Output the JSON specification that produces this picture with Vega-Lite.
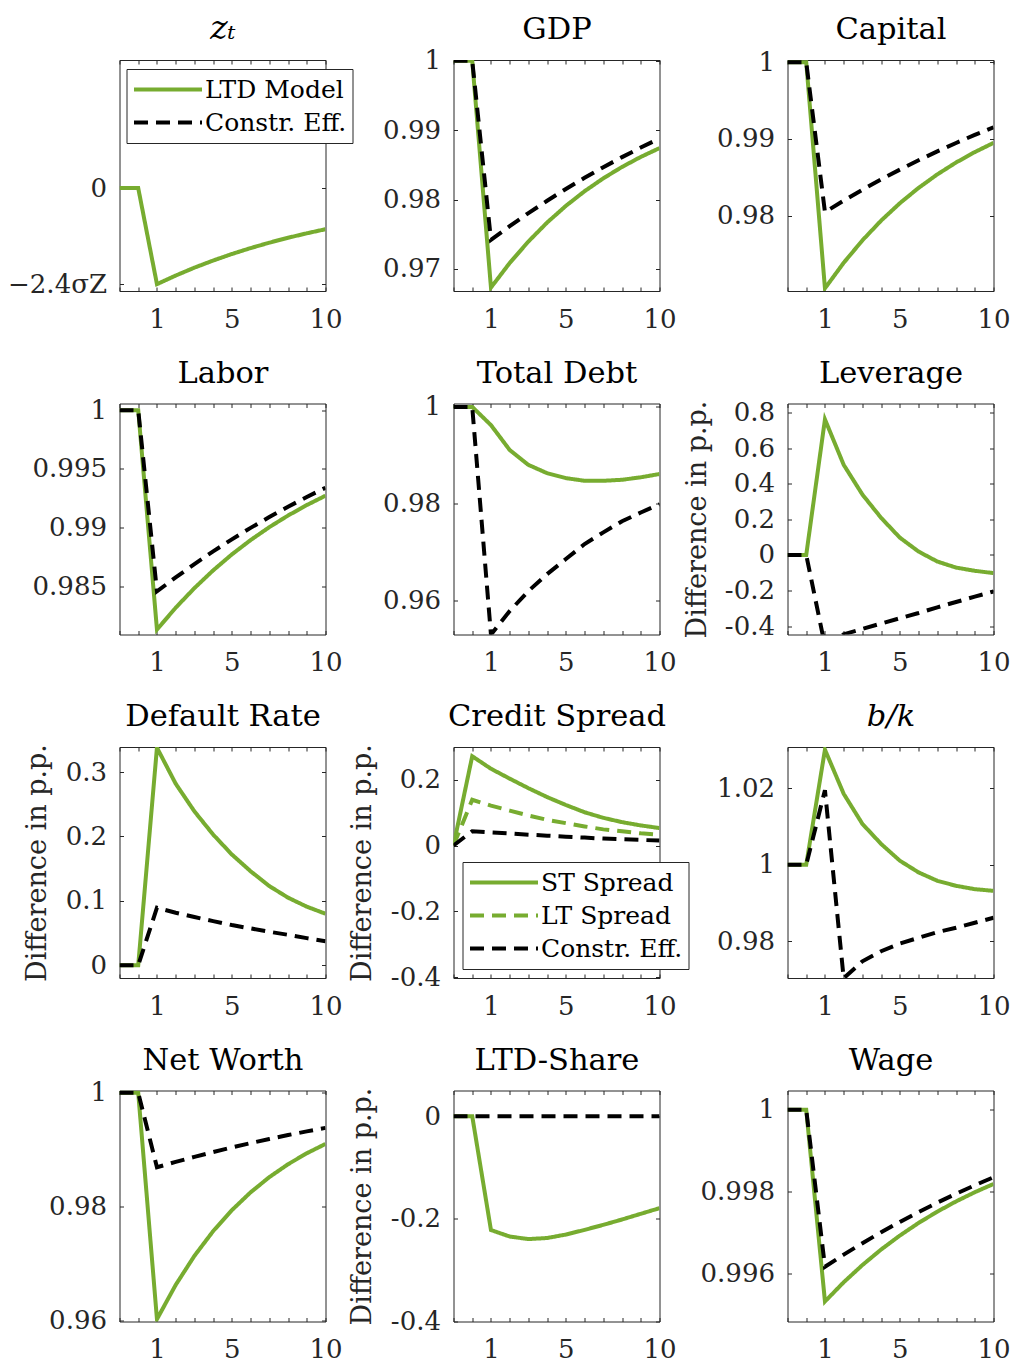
{
"$schema": "https://vega.github.io/schema/vega-lite/v6.json",
"background": "white",
"padding": {"left": 6.5, "top": 12, "right": 5, "bottom": 0},
"columns": 3,
"spacing": {"row": 112.5, "column": 128},
"bounds": "flush",
"resolve": {"scale": {"color": "independent", "strokeDash": "independent"}, "legend": {"color": "independent", "strokeDash": "independent"}},
"datasets": {
"z": [{"t":-1,"s":"LTD Model","v":0},{"t":0,"s":"LTD Model","v":0},{"t":1,"s":"LTD Model","v":-2.4},{"t":2,"s":"LTD Model","v":-2.184},{"t":3,"s":"LTD Model","v":-1.987},{"t":4,"s":"LTD Model","v":-1.809},{"t":5,"s":"LTD Model","v":-1.646},{"t":6,"s":"LTD Model","v":-1.498},{"t":7,"s":"LTD Model","v":-1.363},{"t":8,"s":"LTD Model","v":-1.24},{"t":9,"s":"LTD Model","v":-1.129},{"t":10,"s":"LTD Model","v":-1.027}],
"gdp": [{"t":-1,"s":"LTD Model","v":1},{"t":0,"s":"LTD Model","v":1},{"t":1,"s":"LTD Model","v":0.96733},{"t":2,"s":"LTD Model","v":0.97086},{"t":3,"s":"LTD Model","v":0.97396},{"t":4,"s":"LTD Model","v":0.97669},{"t":5,"s":"LTD Model","v":0.97909},{"t":6,"s":"LTD Model","v":0.9812},{"t":7,"s":"LTD Model","v":0.98306},{"t":8,"s":"LTD Model","v":0.9847},{"t":9,"s":"LTD Model","v":0.98614},{"t":10,"s":"LTD Model","v":0.98741},
{"t":-1,"s":"Constr. Eff.","v":1},{"t":0,"s":"Constr. Eff.","v":1},{"t":1,"s":"Constr. Eff.","v":0.9742},{"t":2,"s":"Constr. Eff.","v":0.97617},{"t":3,"s":"Constr. Eff.","v":0.97805},{"t":4,"s":"Constr. Eff.","v":0.97983},{"t":5,"s":"Constr. Eff.","v":0.98152},{"t":6,"s":"Constr. Eff.","v":0.98313},{"t":7,"s":"Constr. Eff.","v":0.98466},{"t":8,"s":"Constr. Eff.","v":0.98611},{"t":9,"s":"Constr. Eff.","v":0.98749},{"t":10,"s":"Constr. Eff.","v":0.9888}],
"cap": [{"t":-1,"s":"LTD Model","v":1},{"t":0,"s":"LTD Model","v":1},{"t":1,"s":"LTD Model","v":0.9705},{"t":2,"s":"LTD Model","v":0.97383},{"t":3,"s":"LTD Model","v":0.97676},{"t":4,"s":"LTD Model","v":0.97934},{"t":5,"s":"LTD Model","v":0.98161},{"t":6,"s":"LTD Model","v":0.98361},{"t":7,"s":"LTD Model","v":0.98537},{"t":8,"s":"LTD Model","v":0.98692},{"t":9,"s":"LTD Model","v":0.98828},{"t":10,"s":"LTD Model","v":0.98948},
{"t":-1,"s":"Constr. Eff.","v":1},{"t":0,"s":"Constr. Eff.","v":1},{"t":1,"s":"Constr. Eff.","v":0.98044},{"t":2,"s":"Constr. Eff.","v":0.98194},{"t":3,"s":"Constr. Eff.","v":0.98336},{"t":4,"s":"Constr. Eff.","v":0.98471},{"t":5,"s":"Constr. Eff.","v":0.98599},{"t":6,"s":"Constr. Eff.","v":0.98721},{"t":7,"s":"Constr. Eff.","v":0.98837},{"t":8,"s":"Constr. Eff.","v":0.98947},{"t":9,"s":"Constr. Eff.","v":0.99052},{"t":10,"s":"Constr. Eff.","v":0.99151}],
"lab": [{"t":-1,"s":"LTD Model","v":1},{"t":0,"s":"LTD Model","v":1},{"t":1,"s":"LTD Model","v":0.98132},{"t":2,"s":"LTD Model","v":0.98318},{"t":3,"s":"LTD Model","v":0.98485},{"t":4,"s":"LTD Model","v":0.98636},{"t":5,"s":"LTD Model","v":0.98772},{"t":6,"s":"LTD Model","v":0.98894},{"t":7,"s":"LTD Model","v":0.99004},{"t":8,"s":"LTD Model","v":0.99103},{"t":9,"s":"LTD Model","v":0.99192},{"t":10,"s":"LTD Model","v":0.99272},
{"t":-1,"s":"Constr. Eff.","v":1},{"t":0,"s":"Constr. Eff.","v":1},{"t":1,"s":"Constr. Eff.","v":0.98457},{"t":2,"s":"Constr. Eff.","v":0.98576},{"t":3,"s":"Constr. Eff.","v":0.9869},{"t":4,"s":"Constr. Eff.","v":0.98798},{"t":5,"s":"Constr. Eff.","v":0.989},{"t":6,"s":"Constr. Eff.","v":0.98998},{"t":7,"s":"Constr. Eff.","v":0.9909},{"t":8,"s":"Constr. Eff.","v":0.99178},{"t":9,"s":"Constr. Eff.","v":0.99261},{"t":10,"s":"Constr. Eff.","v":0.9934}],
"debt": [{"t":-1,"s":"LTD Model","v":1},{"t":0,"s":"LTD Model","v":1},{"t":1,"s":"LTD Model","v":0.99624},{"t":2,"s":"LTD Model","v":0.99111},{"t":3,"s":"LTD Model","v":0.98803},{"t":4,"s":"LTD Model","v":0.98632},{"t":5,"s":"LTD Model","v":0.9853},{"t":6,"s":"LTD Model","v":0.98475},{"t":7,"s":"LTD Model","v":0.98475},{"t":8,"s":"LTD Model","v":0.98496},{"t":9,"s":"LTD Model","v":0.98547},{"t":10,"s":"LTD Model","v":0.98615},
{"t":-1,"s":"Constr. Eff.","v":1},{"t":0,"s":"Constr. Eff.","v":1},{"t":1,"s":"Constr. Eff.","v":0.953},{"t":2,"s":"Constr. Eff.","v":0.95787},{"t":3,"s":"Constr. Eff.","v":0.962},{"t":4,"s":"Constr. Eff.","v":0.9655},{"t":5,"s":"Constr. Eff.","v":0.9686},{"t":6,"s":"Constr. Eff.","v":0.9717},{"t":7,"s":"Constr. Eff.","v":0.9741},{"t":8,"s":"Constr. Eff.","v":0.9764},{"t":9,"s":"Constr. Eff.","v":0.9782},{"t":10,"s":"Constr. Eff.","v":0.9799}],
"lev": [{"t":-1,"s":"LTD Model","v":0},{"t":0,"s":"LTD Model","v":0},{"t":1,"s":"LTD Model","v":0.761},{"t":2,"s":"LTD Model","v":0.506},{"t":3,"s":"LTD Model","v":0.339},{"t":4,"s":"LTD Model","v":0.208},{"t":5,"s":"LTD Model","v":0.097},{"t":6,"s":"LTD Model","v":0.019},{"t":7,"s":"LTD Model","v":-0.037},{"t":8,"s":"LTD Model","v":-0.071},{"t":9,"s":"LTD Model","v":-0.089},{"t":10,"s":"LTD Model","v":-0.102},
{"t":-1,"s":"Constr. Eff.","v":0},{"t":0,"s":"Constr. Eff.","v":0},{"t":1,"s":"Constr. Eff.","v":-0.51},{"t":2,"s":"Constr. Eff.","v":-0.445},{"t":3,"s":"Constr. Eff.","v":-0.415},{"t":4,"s":"Constr. Eff.","v":-0.385},{"t":5,"s":"Constr. Eff.","v":-0.355},{"t":6,"s":"Constr. Eff.","v":-0.326},{"t":7,"s":"Constr. Eff.","v":-0.294},{"t":8,"s":"Constr. Eff.","v":-0.264},{"t":9,"s":"Constr. Eff.","v":-0.234},{"t":10,"s":"Constr. Eff.","v":-0.205}],
"def": [{"t":-1,"s":"LTD Model","v":0},{"t":0,"s":"LTD Model","v":0},{"t":1,"s":"LTD Model","v":0.338},{"t":2,"s":"LTD Model","v":0.282},{"t":3,"s":"LTD Model","v":0.239},{"t":4,"s":"LTD Model","v":0.203},{"t":5,"s":"LTD Model","v":0.172},{"t":6,"s":"LTD Model","v":0.146},{"t":7,"s":"LTD Model","v":0.123},{"t":8,"s":"LTD Model","v":0.105},{"t":9,"s":"LTD Model","v":0.091},{"t":10,"s":"LTD Model","v":0.08},
{"t":-1,"s":"Constr. Eff.","v":0},{"t":0,"s":"Constr. Eff.","v":0},{"t":1,"s":"Constr. Eff.","v":0.0894},{"t":2,"s":"Constr. Eff.","v":0.0816},{"t":3,"s":"Constr. Eff.","v":0.0749},{"t":4,"s":"Constr. Eff.","v":0.0686},{"t":5,"s":"Constr. Eff.","v":0.0624},{"t":6,"s":"Constr. Eff.","v":0.0572},{"t":7,"s":"Constr. Eff.","v":0.052},{"t":8,"s":"Constr. Eff.","v":0.0473},{"t":9,"s":"Constr. Eff.","v":0.0421},{"t":10,"s":"Constr. Eff.","v":0.0374}],
"cs": [{"t":-1,"s":"ST Spread","v":0},{"t":0,"s":"ST Spread","v":0.271},{"t":1,"s":"ST Spread","v":0.233},{"t":2,"s":"ST Spread","v":0.203},{"t":3,"s":"ST Spread","v":0.174},{"t":4,"s":"ST Spread","v":0.147},{"t":5,"s":"ST Spread","v":0.123},{"t":6,"s":"ST Spread","v":0.101},{"t":7,"s":"ST Spread","v":0.084},{"t":8,"s":"ST Spread","v":0.071},{"t":9,"s":"ST Spread","v":0.061},{"t":10,"s":"ST Spread","v":0.053},
{"t":-1,"s":"LT Spread","v":0},{"t":0,"s":"LT Spread","v":0.139},{"t":1,"s":"LT Spread","v":0.121},{"t":2,"s":"LT Spread","v":0.106},{"t":3,"s":"LT Spread","v":0.091},{"t":4,"s":"LT Spread","v":0.078},{"t":5,"s":"LT Spread","v":0.068},{"t":6,"s":"LT Spread","v":0.058},{"t":7,"s":"LT Spread","v":0.049},{"t":8,"s":"LT Spread","v":0.043},{"t":9,"s":"LT Spread","v":0.037},{"t":10,"s":"LT Spread","v":0.033},
{"t":-1,"s":"Constr. Eff.","v":0},{"t":0,"s":"Constr. Eff.","v":0.0435},{"t":1,"s":"Constr. Eff.","v":0.04},{"t":2,"s":"Constr. Eff.","v":0.037},{"t":3,"s":"Constr. Eff.","v":0.033},{"t":4,"s":"Constr. Eff.","v":0.03},{"t":5,"s":"Constr. Eff.","v":0.027},{"t":6,"s":"Constr. Eff.","v":0.024},{"t":7,"s":"Constr. Eff.","v":0.021},{"t":8,"s":"Constr. Eff.","v":0.019},{"t":9,"s":"Constr. Eff.","v":0.017},{"t":10,"s":"Constr. Eff.","v":0.015}],
"bk": [{"t":-1,"s":"LTD Model","v":1},{"t":0,"s":"LTD Model","v":1},{"t":1,"s":"LTD Model","v":1.0301},{"t":2,"s":"LTD Model","v":1.01856},{"t":3,"s":"LTD Model","v":1.01068},{"t":4,"s":"LTD Model","v":1.00543},{"t":5,"s":"LTD Model","v":1.00105},{"t":6,"s":"LTD Model","v":0.99799},{"t":7,"s":"LTD Model","v":0.9958},{"t":8,"s":"LTD Model","v":0.99449},{"t":9,"s":"LTD Model","v":0.99361},{"t":10,"s":"LTD Model","v":0.99317},
{"t":-1,"s":"Constr. Eff.","v":1},{"t":0,"s":"Constr. Eff.","v":1},{"t":1,"s":"Constr. Eff.","v":1.0195},{"t":2,"s":"Constr. Eff.","v":0.9703},{"t":3,"s":"Constr. Eff.","v":0.97474},{"t":4,"s":"Constr. Eff.","v":0.97737},{"t":5,"s":"Constr. Eff.","v":0.97939},{"t":6,"s":"Constr. Eff.","v":0.98088},{"t":7,"s":"Constr. Eff.","v":0.98236},{"t":8,"s":"Constr. Eff.","v":0.9835},{"t":9,"s":"Constr. Eff.","v":0.98481},{"t":10,"s":"Constr. Eff.","v":0.98613}],
"nw": [{"t":-1,"s":"LTD Model","v":1},{"t":0,"s":"LTD Model","v":1},{"t":1,"s":"LTD Model","v":0.96018},{"t":2,"s":"LTD Model","v":0.9662},{"t":3,"s":"LTD Model","v":0.97131},{"t":4,"s":"LTD Model","v":0.97566},{"t":5,"s":"LTD Model","v":0.97935},{"t":6,"s":"LTD Model","v":0.98249},{"t":7,"s":"LTD Model","v":0.98516},{"t":8,"s":"LTD Model","v":0.98743},{"t":9,"s":"LTD Model","v":0.98936},{"t":10,"s":"LTD Model","v":0.991},
{"t":-1,"s":"Constr. Eff.","v":1},{"t":0,"s":"Constr. Eff.","v":1},{"t":1,"s":"Constr. Eff.","v":0.9869},{"t":2,"s":"Constr. Eff.","v":0.98784},{"t":3,"s":"Constr. Eff.","v":0.98873},{"t":4,"s":"Constr. Eff.","v":0.98957},{"t":5,"s":"Constr. Eff.","v":0.99038},{"t":6,"s":"Constr. Eff.","v":0.99114},{"t":7,"s":"Constr. Eff.","v":0.99187},{"t":8,"s":"Constr. Eff.","v":0.99256},{"t":9,"s":"Constr. Eff.","v":0.99321},{"t":10,"s":"Constr. Eff.","v":0.99383}],
"ltd": [{"t":-1,"s":"LTD Model","v":0},{"t":0,"s":"LTD Model","v":0},{"t":1,"s":"LTD Model","v":-0.2218},{"t":2,"s":"LTD Model","v":-0.2345},{"t":3,"s":"LTD Model","v":-0.2394},{"t":4,"s":"LTD Model","v":-0.2374},{"t":5,"s":"LTD Model","v":-0.2306},{"t":6,"s":"LTD Model","v":-0.2215},{"t":7,"s":"LTD Model","v":-0.2117},{"t":8,"s":"LTD Model","v":-0.2013},{"t":9,"s":"LTD Model","v":-0.1902},{"t":10,"s":"LTD Model","v":-0.1792},
{"t":-1,"s":"Constr. Eff.","v":0},{"t":0,"s":"Constr. Eff.","v":0},{"t":1,"s":"Constr. Eff.","v":0},{"t":2,"s":"Constr. Eff.","v":0},{"t":3,"s":"Constr. Eff.","v":0},{"t":4,"s":"Constr. Eff.","v":0},{"t":5,"s":"Constr. Eff.","v":0},{"t":6,"s":"Constr. Eff.","v":0},{"t":7,"s":"Constr. Eff.","v":0},{"t":8,"s":"Constr. Eff.","v":0},{"t":9,"s":"Constr. Eff.","v":0},{"t":10,"s":"Constr. Eff.","v":0}],
"wage": [{"t":-1,"s":"LTD Model","v":1},{"t":0,"s":"LTD Model","v":1},{"t":1,"s":"LTD Model","v":0.995305},{"t":2,"s":"LTD Model","v":0.995775},{"t":3,"s":"LTD Model","v":0.996197},{"t":4,"s":"LTD Model","v":0.996578},{"t":5,"s":"LTD Model","v":0.99692},{"t":6,"s":"LTD Model","v":0.997229},{"t":7,"s":"LTD Model","v":0.997506},{"t":8,"s":"LTD Model","v":0.997756},{"t":9,"s":"LTD Model","v":0.997981},{"t":10,"s":"LTD Model","v":0.998184},
{"t":-1,"s":"Constr. Eff.","v":1},{"t":0,"s":"Constr. Eff.","v":1},{"t":1,"s":"Constr. Eff.","v":0.996155},{"t":2,"s":"Constr. Eff.","v":0.996452},{"t":3,"s":"Constr. Eff.","v":0.996733},{"t":4,"s":"Constr. Eff.","v":0.997001},{"t":5,"s":"Constr. Eff.","v":0.997255},{"t":6,"s":"Constr. Eff.","v":0.997496},{"t":7,"s":"Constr. Eff.","v":0.997726},{"t":8,"s":"Constr. Eff.","v":0.997944},{"t":9,"s":"Constr. Eff.","v":0.998151},{"t":10,"s":"Constr. Eff.","v":0.998348}]
},
"concat": [
{"width": 206, "height": 231, "data": {"name": "z"},
 "layer": [
  {"mark": {"type": "line", "clip": true, "strokeWidth": 4},
   "encoding": {
    "x": {"field": "t", "type": "quantitative", "scale": {"domain": [-1, 10], "nice": false, "zero": false}, "axis": {"values": [-1,0,1,2,3,4,5,6,7,8,9,10], "labelExpr": "datum.value == 1 ? '1' : datum.value == 5 ? '5' : datum.value == 10 ? '10' : ''", "title": null}},
    "y": {"field": "v", "type": "quantitative", "scale": {"domain": [-2.57, 3.2], "nice": false, "zero": false}, "axis": {"values": [-2.4, 0], "labelExpr": "datum.value == 0 ? '0' : '−2.4σZ'", "title": null}},
    "color": {"field": "s", "type": "nominal", "scale": {"domain": ["LTD Model", "Constr. Eff."], "range": ["#77AC30", "#000000"]}, "legend": {"orient": "none", "legendX": 7, "legendY": 9, "title": null}},
    "strokeDash": {"field": "s", "type": "nominal", "scale": {"domain": ["LTD Model", "Constr. Eff."], "range": [[1, 0], [14, 8]]}, "legend": {"orient": "none", "legendX": 7, "legendY": 9, "title": null}}
   }},
  {"mark": {"type": "point", "opacity": 0, "clip": true},
   "encoding": {
    "x": {"field": "t", "type": "quantitative", "axis": {"orient": "top", "values": [-1,0,1,2,3,4,5,6,7,8,9,10], "labels": false, "title": "zₜ", "titleFontStyle": "italic", "titleFontSize": 33}},
    "y": {"field": "v", "type": "quantitative", "axis": {"orient": "right", "values": [-2.4, 0], "labels": false, "title": null}}
   }}
 ],
 "resolve": {"axis": {"x": "independent", "y": "independent"}}
},
{"width": 206, "height": 231, "data": {"name": "gdp"},
 "layer": [
  {"mark": {"type": "line", "clip": true, "strokeWidth": 4},
   "encoding": {
    "x": {"field": "t", "type": "quantitative", "scale": {"domain": [-1, 10], "nice": false, "zero": false}, "axis": {"values": [-1,0,1,2,3,4,5,6,7,8,9,10], "labelExpr": "datum.value == 1 ? '1' : datum.value == 5 ? '5' : datum.value == 10 ? '10' : ''", "title": null}},
    "y": {"field": "v", "type": "quantitative", "scale": {"domain": [0.96683, 1.0001], "nice": false, "zero": false}, "axis": {"values": [0.97, 0.98, 0.99, 1], "format": ".2~f", "title": null}},
    "color": {"field": "s", "type": "nominal", "scale": {"domain": ["LTD Model", "Constr. Eff."], "range": ["#77AC30", "#000000"]}, "legend": null},
    "strokeDash": {"field": "s", "type": "nominal", "scale": {"domain": ["LTD Model", "Constr. Eff."], "range": [[1, 0], [14, 8]]}, "legend": null}
   }},
  {"mark": {"type": "point", "opacity": 0, "clip": true},
   "encoding": {
    "x": {"field": "t", "type": "quantitative", "axis": {"orient": "top", "values": [-1,0,1,2,3,4,5,6,7,8,9,10], "labels": false, "title": "GDP"}},
    "y": {"field": "v", "type": "quantitative", "axis": {"orient": "right", "values": [0.97, 0.98, 0.99, 1], "labels": false, "title": null}}
   }}
 ],
 "resolve": {"axis": {"x": "independent", "y": "independent"}}
},
{"width": 206, "height": 231, "data": {"name": "cap"},
 "layer": [
  {"mark": {"type": "line", "clip": true, "strokeWidth": 4},
   "encoding": {
    "x": {"field": "t", "type": "quantitative", "scale": {"domain": [-1, 10], "nice": false, "zero": false}, "axis": {"values": [-1,0,1,2,3,4,5,6,7,8,9,10], "labelExpr": "datum.value == 1 ? '1' : datum.value == 5 ? '5' : datum.value == 10 ? '10' : ''", "title": null}},
    "y": {"field": "v", "type": "quantitative", "scale": {"domain": [0.97015, 1.0003], "nice": false, "zero": false}, "axis": {"values": [0.98, 0.99, 1], "format": ".2~f", "title": null}},
    "color": {"field": "s", "type": "nominal", "scale": {"domain": ["LTD Model", "Constr. Eff."], "range": ["#77AC30", "#000000"]}, "legend": null},
    "strokeDash": {"field": "s", "type": "nominal", "scale": {"domain": ["LTD Model", "Constr. Eff."], "range": [[1, 0], [14, 8]]}, "legend": null}
   }},
  {"mark": {"type": "point", "opacity": 0, "clip": true},
   "encoding": {
    "x": {"field": "t", "type": "quantitative", "axis": {"orient": "top", "values": [-1,0,1,2,3,4,5,6,7,8,9,10], "labels": false, "title": "Capital"}},
    "y": {"field": "v", "type": "quantitative", "axis": {"orient": "right", "values": [0.98, 0.99, 1], "labels": false, "title": null}}
   }}
 ],
 "resolve": {"axis": {"x": "independent", "y": "independent"}}
},
{"width": 206, "height": 231, "data": {"name": "lab"},
 "layer": [
  {"mark": {"type": "line", "clip": true, "strokeWidth": 4},
   "encoding": {
    "x": {"field": "t", "type": "quantitative", "scale": {"domain": [-1, 10], "nice": false, "zero": false}, "axis": {"values": [-1,0,1,2,3,4,5,6,7,8,9,10], "labelExpr": "datum.value == 1 ? '1' : datum.value == 5 ? '5' : datum.value == 10 ? '10' : ''", "title": null}},
    "y": {"field": "v", "type": "quantitative", "scale": {"domain": [0.9809, 1.00057], "nice": false, "zero": false}, "axis": {"values": [0.985, 0.99, 0.995, 1], "format": ".3~f", "title": null}},
    "color": {"field": "s", "type": "nominal", "scale": {"domain": ["LTD Model", "Constr. Eff."], "range": ["#77AC30", "#000000"]}, "legend": null},
    "strokeDash": {"field": "s", "type": "nominal", "scale": {"domain": ["LTD Model", "Constr. Eff."], "range": [[1, 0], [14, 8]]}, "legend": null}
   }},
  {"mark": {"type": "point", "opacity": 0, "clip": true},
   "encoding": {
    "x": {"field": "t", "type": "quantitative", "axis": {"orient": "top", "values": [-1,0,1,2,3,4,5,6,7,8,9,10], "labels": false, "title": "Labor"}},
    "y": {"field": "v", "type": "quantitative", "axis": {"orient": "right", "values": [0.985, 0.99, 0.995, 1], "labels": false, "title": null}}
   }}
 ],
 "resolve": {"axis": {"x": "independent", "y": "independent"}}
},
{"width": 206, "height": 231, "data": {"name": "debt"},
 "layer": [
  {"mark": {"type": "line", "clip": true, "strokeWidth": 4},
   "encoding": {
    "x": {"field": "t", "type": "quantitative", "scale": {"domain": [-1, 10], "nice": false, "zero": false}, "axis": {"values": [-1,0,1,2,3,4,5,6,7,8,9,10], "labelExpr": "datum.value == 1 ? '1' : datum.value == 5 ? '5' : datum.value == 10 ? '10' : ''", "title": null}},
    "y": {"field": "v", "type": "quantitative", "scale": {"domain": [0.95303, 1.0007], "nice": false, "zero": false}, "axis": {"values": [0.96, 0.98, 1], "format": ".2~f", "title": null}},
    "color": {"field": "s", "type": "nominal", "scale": {"domain": ["LTD Model", "Constr. Eff."], "range": ["#77AC30", "#000000"]}, "legend": null},
    "strokeDash": {"field": "s", "type": "nominal", "scale": {"domain": ["LTD Model", "Constr. Eff."], "range": [[1, 0], [14, 8]]}, "legend": null}
   }},
  {"mark": {"type": "point", "opacity": 0, "clip": true},
   "encoding": {
    "x": {"field": "t", "type": "quantitative", "axis": {"orient": "top", "values": [-1,0,1,2,3,4,5,6,7,8,9,10], "labels": false, "title": "Total Debt"}},
    "y": {"field": "v", "type": "quantitative", "axis": {"orient": "right", "values": [0.96, 0.98, 1], "labels": false, "title": null}}
   }}
 ],
 "resolve": {"axis": {"x": "independent", "y": "independent"}}
},
{"width": 206, "height": 231, "data": {"name": "lev"},
 "layer": [
  {"mark": {"type": "line", "clip": true, "strokeWidth": 4},
   "encoding": {
    "x": {"field": "t", "type": "quantitative", "scale": {"domain": [-1, 10], "nice": false, "zero": false}, "axis": {"values": [-1,0,1,2,3,4,5,6,7,8,9,10], "labelExpr": "datum.value == 1 ? '1' : datum.value == 5 ? '5' : datum.value == 10 ? '10' : ''", "title": null}},
    "y": {"field": "v", "type": "quantitative", "scale": {"domain": [-0.4465, 0.85], "nice": false, "zero": false}, "axis": {"values": [-0.4, -0.2, 0, 0.2, 0.4, 0.6, 0.8], "format": ".1~f", "labelExpr": "replace(datum.label, '−', '-')", "title": "Difference in p.p.", "titlePadding": 13}},
    "color": {"field": "s", "type": "nominal", "scale": {"domain": ["LTD Model", "Constr. Eff."], "range": ["#77AC30", "#000000"]}, "legend": null},
    "strokeDash": {"field": "s", "type": "nominal", "scale": {"domain": ["LTD Model", "Constr. Eff."], "range": [[1, 0], [14, 8]]}, "legend": null}
   }},
  {"mark": {"type": "point", "opacity": 0, "clip": true},
   "encoding": {
    "x": {"field": "t", "type": "quantitative", "axis": {"orient": "top", "values": [-1,0,1,2,3,4,5,6,7,8,9,10], "labels": false, "title": "Leverage"}},
    "y": {"field": "v", "type": "quantitative", "axis": {"orient": "right", "values": [-0.4, -0.2, 0, 0.2, 0.4, 0.6, 0.8], "labels": false, "title": null}}
   }}
 ],
 "resolve": {"axis": {"x": "independent", "y": "independent"}}
},
{"width": 206, "height": 231, "data": {"name": "def"},
 "layer": [
  {"mark": {"type": "line", "clip": true, "strokeWidth": 4},
   "encoding": {
    "x": {"field": "t", "type": "quantitative", "scale": {"domain": [-1, 10], "nice": false, "zero": false}, "axis": {"values": [-1,0,1,2,3,4,5,6,7,8,9,10], "labelExpr": "datum.value == 1 ? '1' : datum.value == 5 ? '5' : datum.value == 10 ? '10' : ''", "title": null}},
    "y": {"field": "v", "type": "quantitative", "scale": {"domain": [-0.0198, 0.339], "nice": false, "zero": false}, "axis": {"values": [0, 0.1, 0.2, 0.3], "format": ".1~f", "title": "Difference in p.p.", "titlePadding": 14}},
    "color": {"field": "s", "type": "nominal", "scale": {"domain": ["LTD Model", "Constr. Eff."], "range": ["#77AC30", "#000000"]}, "legend": null},
    "strokeDash": {"field": "s", "type": "nominal", "scale": {"domain": ["LTD Model", "Constr. Eff."], "range": [[1, 0], [14, 8]]}, "legend": null}
   }},
  {"mark": {"type": "point", "opacity": 0, "clip": true},
   "encoding": {
    "x": {"field": "t", "type": "quantitative", "axis": {"orient": "top", "values": [-1,0,1,2,3,4,5,6,7,8,9,10], "labels": false, "title": "Default Rate"}},
    "y": {"field": "v", "type": "quantitative", "axis": {"orient": "right", "values": [0, 0.1, 0.2, 0.3], "labels": false, "title": null}}
   }}
 ],
 "resolve": {"axis": {"x": "independent", "y": "independent"}}
},
{"width": 206, "height": 231, "data": {"name": "cs"},
 "layer": [
  {"mark": {"type": "line", "clip": true, "strokeWidth": 4},
   "encoding": {
    "x": {"field": "t", "type": "quantitative", "scale": {"domain": [-1, 10], "nice": false, "zero": false}, "axis": {"values": [-1,0,1,2,3,4,5,6,7,8,9,10], "labelExpr": "datum.value == 1 ? '1' : datum.value == 5 ? '5' : datum.value == 10 ? '10' : ''", "title": null}},
    "y": {"field": "v", "type": "quantitative", "scale": {"domain": [-0.402, 0.299], "nice": false, "zero": false}, "axis": {"values": [-0.4, -0.2, 0, 0.2], "format": ".1~f", "labelExpr": "replace(datum.label, '−', '-')", "title": "Difference in p.p.", "titlePadding": 14}},
    "color": {"field": "s", "type": "nominal", "scale": {"domain": ["ST Spread", "LT Spread", "Constr. Eff."], "range": ["#77AC30", "#77AC30", "#000000"]}, "legend": {"orient": "none", "legendX": 9, "legendY": 115, "title": null}},
    "strokeDash": {"field": "s", "type": "nominal", "scale": {"domain": ["ST Spread", "LT Spread", "Constr. Eff."], "range": [[1, 0], [14, 8], [14, 8]]}, "legend": {"orient": "none", "legendX": 9, "legendY": 115, "title": null}}
   }},
  {"mark": {"type": "point", "opacity": 0, "clip": true},
   "encoding": {
    "x": {"field": "t", "type": "quantitative", "axis": {"orient": "top", "values": [-1,0,1,2,3,4,5,6,7,8,9,10], "labels": false, "title": "Credit Spread"}},
    "y": {"field": "v", "type": "quantitative", "axis": {"orient": "right", "values": [-0.4, -0.2, 0, 0.2], "labels": false, "title": null}}
   }}
 ],
 "resolve": {"axis": {"x": "independent", "y": "independent"}}
},
{"width": 206, "height": 231, "data": {"name": "bk"},
 "layer": [
  {"mark": {"type": "line", "clip": true, "strokeWidth": 4},
   "encoding": {
    "x": {"field": "t", "type": "quantitative", "scale": {"domain": [-1, 10], "nice": false, "zero": false}, "axis": {"values": [-1,0,1,2,3,4,5,6,7,8,9,10], "labelExpr": "datum.value == 1 ? '1' : datum.value == 5 ? '5' : datum.value == 10 ? '10' : ''", "title": null}},
    "y": {"field": "v", "type": "quantitative", "scale": {"domain": [0.97037, 1.0308], "nice": false, "zero": false}, "axis": {"values": [0.98, 1, 1.02], "format": ".2~f", "title": null}},
    "color": {"field": "s", "type": "nominal", "scale": {"domain": ["LTD Model", "Constr. Eff."], "range": ["#77AC30", "#000000"]}, "legend": null},
    "strokeDash": {"field": "s", "type": "nominal", "scale": {"domain": ["LTD Model", "Constr. Eff."], "range": [[1, 0], [14, 8]]}, "legend": null}
   }},
  {"mark": {"type": "point", "opacity": 0, "clip": true},
   "encoding": {
    "x": {"field": "t", "type": "quantitative", "axis": {"orient": "top", "values": [-1,0,1,2,3,4,5,6,7,8,9,10], "labels": false, "title": "b/k", "titleFontStyle": "italic"}},
    "y": {"field": "v", "type": "quantitative", "axis": {"orient": "right", "values": [0.98, 1, 1.02], "labels": false, "title": null}}
   }}
 ],
 "resolve": {"axis": {"x": "independent", "y": "independent"}}
},
{"width": 206, "height": 231, "data": {"name": "nw"},
 "layer": [
  {"mark": {"type": "line", "clip": true, "strokeWidth": 4},
   "encoding": {
    "x": {"field": "t", "type": "quantitative", "scale": {"domain": [-1, 10], "nice": false, "zero": false}, "axis": {"values": [-1,0,1,2,3,4,5,6,7,8,9,10], "labelExpr": "datum.value == 1 ? '1' : datum.value == 5 ? '5' : datum.value == 10 ? '10' : ''", "title": null}},
    "y": {"field": "v", "type": "quantitative", "scale": {"domain": [0.95977, 1.0004], "nice": false, "zero": false}, "axis": {"values": [0.96, 0.98, 1], "format": ".2~f", "title": null}},
    "color": {"field": "s", "type": "nominal", "scale": {"domain": ["LTD Model", "Constr. Eff."], "range": ["#77AC30", "#000000"]}, "legend": null},
    "strokeDash": {"field": "s", "type": "nominal", "scale": {"domain": ["LTD Model", "Constr. Eff."], "range": [[1, 0], [14, 8]]}, "legend": null}
   }},
  {"mark": {"type": "point", "opacity": 0, "clip": true},
   "encoding": {
    "x": {"field": "t", "type": "quantitative", "axis": {"orient": "top", "values": [-1,0,1,2,3,4,5,6,7,8,9,10], "labels": false, "title": "Net Worth"}},
    "y": {"field": "v", "type": "quantitative", "axis": {"orient": "right", "values": [0.96, 0.98, 1], "labels": false, "title": null}}
   }}
 ],
 "resolve": {"axis": {"x": "independent", "y": "independent"}}
},
{"width": 206, "height": 231, "data": {"name": "ltd"},
 "layer": [
  {"mark": {"type": "line", "clip": true, "strokeWidth": 4},
   "encoding": {
    "x": {"field": "t", "type": "quantitative", "scale": {"domain": [-1, 10], "nice": false, "zero": false}, "axis": {"values": [-1,0,1,2,3,4,5,6,7,8,9,10], "labelExpr": "datum.value == 1 ? '1' : datum.value == 5 ? '5' : datum.value == 10 ? '10' : ''", "title": null}},
    "y": {"field": "v", "type": "quantitative", "scale": {"domain": [-0.4, 0.05], "nice": false, "zero": false}, "axis": {"values": [-0.4, -0.2, 0], "format": ".1~f", "labelExpr": "replace(datum.label, '−', '-')", "title": "Difference in p.p.", "titlePadding": 14}},
    "color": {"field": "s", "type": "nominal", "scale": {"domain": ["LTD Model", "Constr. Eff."], "range": ["#77AC30", "#000000"]}, "legend": null},
    "strokeDash": {"field": "s", "type": "nominal", "scale": {"domain": ["LTD Model", "Constr. Eff."], "range": [[1, 0], [14, 8]]}, "legend": null}
   }},
  {"mark": {"type": "point", "opacity": 0, "clip": true},
   "encoding": {
    "x": {"field": "t", "type": "quantitative", "axis": {"orient": "top", "values": [-1,0,1,2,3,4,5,6,7,8,9,10], "labels": false, "title": "LTD-Share"}},
    "y": {"field": "v", "type": "quantitative", "axis": {"orient": "right", "values": [-0.4, -0.2, 0], "labels": false, "title": null}}
   }}
 ],
 "resolve": {"axis": {"x": "independent", "y": "independent"}}
},
{"width": 206, "height": 231, "data": {"name": "wage"},
 "layer": [
  {"mark": {"type": "line", "clip": true, "strokeWidth": 4},
   "encoding": {
    "x": {"field": "t", "type": "quantitative", "scale": {"domain": [-1, 10], "nice": false, "zero": false}, "axis": {"values": [-1,0,1,2,3,4,5,6,7,8,9,10], "labelExpr": "datum.value == 1 ? '1' : datum.value == 5 ? '5' : datum.value == 10 ? '10' : ''", "title": null}},
    "y": {"field": "v", "type": "quantitative", "scale": {"domain": [0.994814, 1.000474], "nice": false, "zero": false}, "axis": {"values": [0.996, 0.998, 1], "format": ".3~f", "title": null}},
    "color": {"field": "s", "type": "nominal", "scale": {"domain": ["LTD Model", "Constr. Eff."], "range": ["#77AC30", "#000000"]}, "legend": null},
    "strokeDash": {"field": "s", "type": "nominal", "scale": {"domain": ["LTD Model", "Constr. Eff."], "range": [[1, 0], [14, 8]]}, "legend": null}
   }},
  {"mark": {"type": "point", "opacity": 0, "clip": true},
   "encoding": {
    "x": {"field": "t", "type": "quantitative", "axis": {"orient": "top", "values": [-1,0,1,2,3,4,5,6,7,8,9,10], "labels": false, "title": "Wage"}},
    "y": {"field": "v", "type": "quantitative", "axis": {"orient": "right", "values": [0.996, 0.998, 1], "labels": false, "title": null}}
   }}
 ],
 "resolve": {"axis": {"x": "independent", "y": "independent"}}
}
],
"config": {
 "font": "DejaVu Serif",
 "view": {"stroke": "#262626", "strokeWidth": 1},
 "axis": {"domain": false, "grid": false, "tickColor": "#262626", "tickSize": -4, "tickWidth": 1, "labelFont": "DejaVu Serif", "labelFontSize": 26, "labelColor": "#262626", "labelFlush": false, "labelOverlap": false, "titleFont": "DejaVu Serif", "titleFontSize": 27, "titleFontWeight": "normal", "titleColor": "#262626"},
 "axisX": {"labelPadding": 19},
 "axisY": {"labelPadding": 17},
 "axisTop": {"titleFontSize": 30.5, "titleColor": "#000000", "titleBaseline": "alphabetic", "titlePadding": 21},
 "legend": {"labelFont": "DejaVu Serif", "labelFontSize": 25, "labelColor": "#000000", "symbolStrokeWidth": 4, "symbolSize": 4624, "symbolType": "stroke", "strokeColor": "#262626", "fillColor": "#ffffff", "padding": 5.5, "rowPadding": 3, "clipHeight": 30, "labelOffset": 1, "labelLimit": 0}
}
}
